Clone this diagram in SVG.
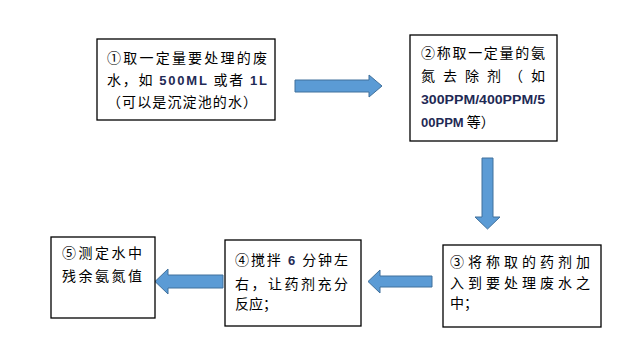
<svg xmlns="http://www.w3.org/2000/svg" width="635" height="355" viewBox="0 0 635 355">
<style>
.box{fill:#fff;stroke:#000;stroke-width:1.3}
.t{font-family:"Noto Sans CJK SC","Liberation Sans",sans-serif;font-size:14px;fill:#000}
.n{font-family:"Liberation Sans",sans-serif;font-weight:bold;font-size:13px;fill:#1f2a55}
.arr{fill:#5b9bd5;stroke:#41719c;stroke-width:1}
</style>
<rect width="635" height="355" fill="#fff"/>
<g id="connectors">
<polygon class="arr" points="295,80 369,80 369,75 382,86 369,97 369,92 295,92"/>
<polygon class="arr" points="482,158 493,158 493,217 500,217 487.5,229 475,217 482,217"/>
<polygon class="arr" points="432,276 380,276 380,270 368,281.5 380,293 380,287 432,287"/>
<polygon class="arr" points="223,275 168,275 168,269 155,281.5 168,294 168,288 223,288"/>
</g>
<g id="node1">
<rect class="box" x="97" y="39" width="178" height="81"/>
<text class="t" x="107" y="63" textLength="160" lengthAdjust="spacing">①取一定量要处理的废</text>
<text class="t" x="107" y="85" textLength="160" lengthAdjust="spacing">水，如 <tspan class="n">500ML</tspan> 或者 <tspan class="n">1L</tspan></text>
<text class="t" x="107" y="107" textLength="150" lengthAdjust="spacing">（可以是沉淀池的水）</text>
</g>
<g id="node2">
<rect class="box" x="410" y="35" width="147" height="106"/>
<text class="t" x="421" y="58" textLength="124" lengthAdjust="spacing">②称取一定量的氨</text>
<text class="t" x="421" y="81" textLength="124" lengthAdjust="spacing">氮 去 除 剂 （ 如</text>
<text class="n" x="421" y="104" textLength="124" lengthAdjust="spacingAndGlyphs">300PPM/400PPM/5</text>
<text class="t" x="421" y="127"><tspan class="n">00PPM</tspan> 等）</text>
</g>
<g id="node3">
<rect class="box" x="443" y="245" width="158" height="82"/>
<text class="t" x="450" y="267" textLength="140" lengthAdjust="spacing">③将称取的药剂加</text>
<text class="t" x="450" y="288" textLength="140" lengthAdjust="spacing">入到要处理废水之</text>
<text class="t" x="450" y="308">中；</text>
</g>
<g id="node4">
<rect class="box" x="225" y="240" width="136" height="86"/>
<text class="t" x="235" y="265" textLength="113" lengthAdjust="spacing">④搅拌 <tspan class="n">6</tspan> 分钟左</text>
<text class="t" x="235" y="289" textLength="113" lengthAdjust="spacing">右，让药剂充分</text>
<text class="t" x="235" y="309">反应；</text>
</g>
<g id="node5">
<rect class="box" x="51" y="237" width="104" height="81"/>
<text class="t" x="62" y="258" textLength="80" lengthAdjust="spacing">⑤测定水中</text>
<text class="t" x="62" y="281" textLength="80" lengthAdjust="spacing">残余氨氮值</text>
</g>
</svg>
